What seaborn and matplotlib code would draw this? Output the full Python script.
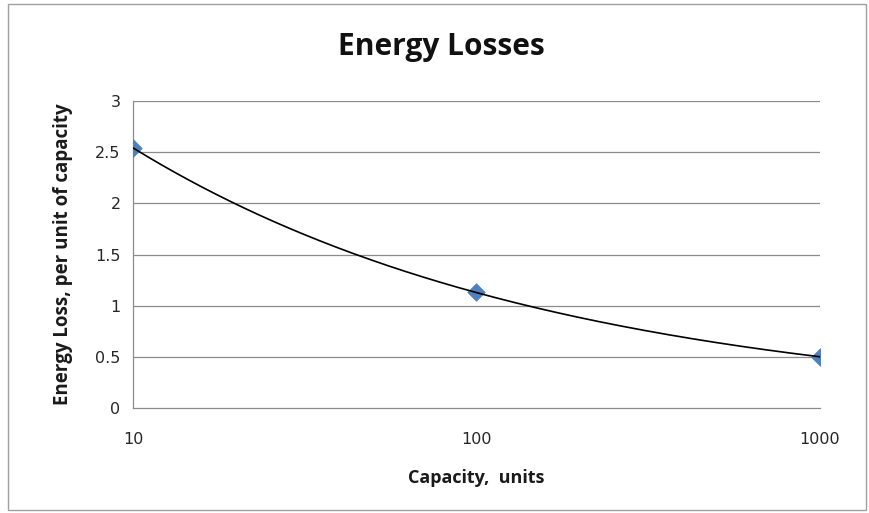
import numpy as np
import pandas as pd
import seaborn as sns
import matplotlib
matplotlib.use("Agg")
import matplotlib.pyplot as plt
from matplotlib.patches import Rectangle
from matplotlib.ticker import FixedLocator, FixedFormatter, NullLocator

# Measured energy loss per unit of capacity
capacity = [10, 100, 1000]
energy_loss = [2.54, 1.13, 0.50]

y_ticks = [0, 0.5, 1, 1.5, 2, 2.5, 3]
y_tick_labels = ["0", "0.5", "1", "1.5", "2", "2.5", "3"]
x_ticks = [10, 100, 1000]
x_tick_labels = ["10", "100", "1000"]

df = pd.DataFrame({"capacity": capacity, "loss": energy_loss})

sns.set_theme(style="white")
plt.rcParams["font.family"] = ["DejaVu Sans"]

fig = plt.figure(figsize=(8.7, 5.13), dpi=100)
ax = fig.add_axes([0.1529, 0.2047, 0.7896, 0.5983])

# outer chart border
fig.patches.append(Rectangle((8 / 870, 3 / 513), 858 / 870, 506 / 513,
                             transform=fig.transFigure, fill=False,
                             edgecolor="#a0a0a0", linewidth=1.0))

grid_c = "#8c8c8c"
for t in y_ticks[1:]:
    ax.axhline(t, color=grid_c, linewidth=0.9, zorder=0)

sns.scatterplot(data=df, x="capacity", y="loss", marker="D", s=80,
                color="#4f81bd", edgecolor="#4f81bd", linewidth=0.5,
                ax=ax, zorder=3, legend=False)

# power-law trendline fitted to the measurements
b, log_a = np.polyfit(np.log(df["capacity"]), np.log(df["loss"]), 1)
xs = np.logspace(np.log10(capacity[0]), np.log10(capacity[-1]), 200)
trend = pd.DataFrame({"capacity": xs, "loss": np.exp(log_a) * xs ** b})
sns.lineplot(data=trend, x="capacity", y="loss", color="black",
             linewidth=1.2, ax=ax, zorder=4)

ax.set_xscale("log")
ax.set_xlim(10, 1000)
ax.set_ylim(0, 3)
ax.xaxis.set_major_locator(FixedLocator(x_ticks))
ax.xaxis.set_major_formatter(FixedFormatter(x_tick_labels))
ax.xaxis.set_minor_locator(NullLocator())
ax.yaxis.set_major_locator(FixedLocator(y_ticks))
ax.yaxis.set_major_formatter(FixedFormatter(y_tick_labels))

for s in ["top", "right"]:
    ax.spines[s].set_visible(False)
for s in ["left", "bottom"]:
    ax.spines[s].set_color(grid_c)
    ax.spines[s].set_linewidth(0.9)
ax.spines["bottom"].set_zorder(1)

ax.tick_params(axis="both", which="major", direction="out", length=5,
               width=0.9, color=grid_c, labelsize=11.5, labelcolor="#262626")
ax.tick_params(axis="x", pad=12)
ax.tick_params(axis="y", pad=4)

ax.set_xlabel("Capacity,  units", fontsize=13, fontweight="bold",
              family=["Open Sans"], labelpad=16, color="#1a1a1a")
ax.set_ylabel("Energy Loss, per unit of capacity", fontsize=13.5,
              fontweight="bold", family=["Open Sans"], labelpad=16,
              color="#1a1a1a")
fig.text(0.507, 0.908, "Energy Losses", ha="center", va="center",
         fontsize=21.5, fontweight="bold", family=["Open Sans"],
         color="#111111")

fig.savefig("out.png", dpi=100, facecolor="white")
